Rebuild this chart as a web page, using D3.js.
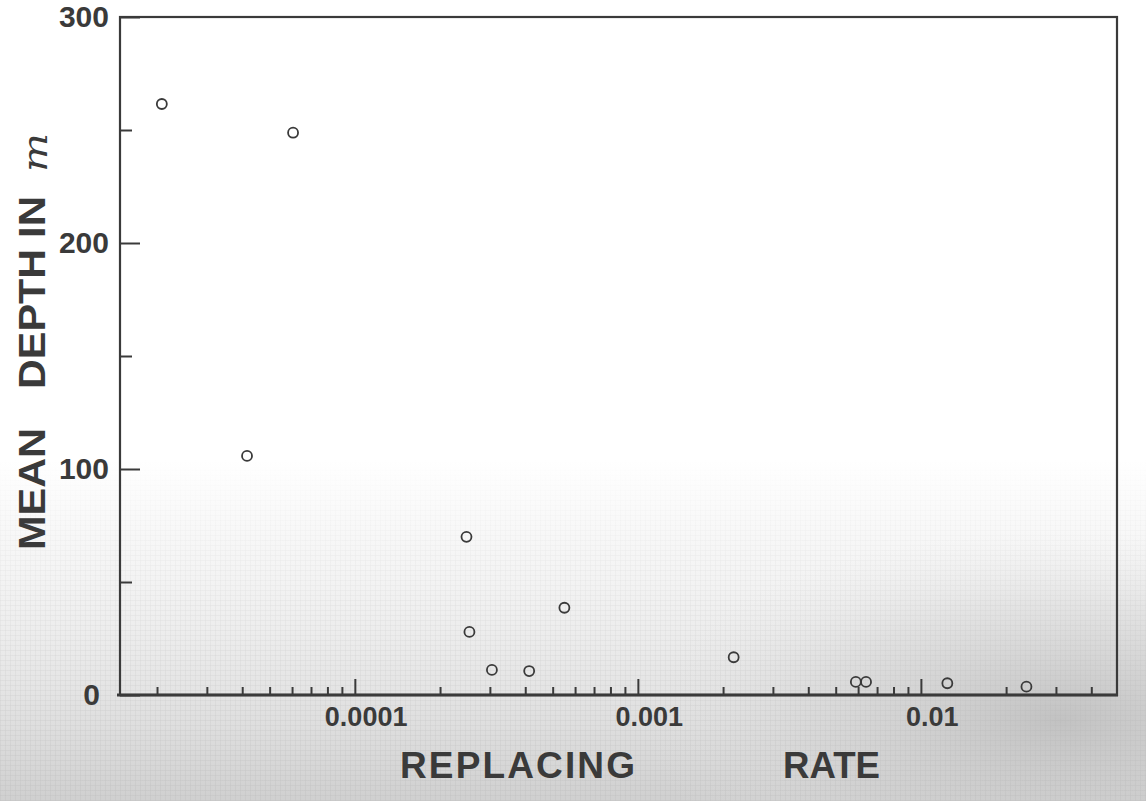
<!DOCTYPE html>
<html>
<head>
<meta charset="utf-8">
<script src="https://cdn.jsdelivr.net/npm/d3@7"></script>
<style>
  html, body { margin: 0; padding: 0; background: #fff; }
  svg { display: block; }
</style>
</head>
<body>
<script>
// ---- data ----
const replacingRate = [2.08e-5, 6.05e-5, 4.16e-5, 2.48e-4, 2.54e-4, 3.05e-4, 4.13e-4, 5.5e-4, 2.18e-3, 5.89e-3, 6.4e-3, 1.24e-2, 2.36e-2];
const meanDepth     = [261.5, 248.8, 105.8, 70.0, 27.9, 11.1, 10.6, 38.6, 16.7, 5.8, 5.8, 5.2, 3.7];
const xMajorTicks = [0.0001, 0.001, 0.01];
const xMajorLabels = ["0.0001", "0.001", "0.01"];
const xMinorTicks = [2e-5,3e-5,4e-5,5e-5,6e-5,7e-5,8e-5,9e-5,
                     2e-4,3e-4,4e-4,5e-4,6e-4,7e-4,8e-4,9e-4,
                     2e-3,3e-3,4e-3,5e-3,6e-3,7e-3,8e-3,9e-3,
                     2e-2,3e-2,4e-2];
const yMajorTicks = [0, 100, 200, 300];
const yMinorTicks = [50, 150, 250];
const xTitleWords = ["REPLACING", "RATE"];
const yTitleWords = ["MEAN", "DEPTH", "IN"];
const yUnit = "m";

(function () {
const W = 1146, H = 801;
const pL = 120, pR = 1117, pT = 17, pB = 695;
const ink = "#3a3a3a";
const font = "'Liberation Sans', Arial, sans-serif";

const svg = d3.select("body").append("svg").attr("width", W).attr("height", H);

// ---- paper background (scanned graph-paper look in lower part) ----
const defs = svg.append("defs");
const grad = defs.append("linearGradient").attr("id", "fade").attr("x1", 0).attr("y1", 0).attr("x2", 0).attr("y2", 1);
grad.append("stop").attr("offset", "0%").attr("stop-color", "#e0e0e0").attr("stop-opacity", 0);
grad.append("stop").attr("offset", "40%").attr("stop-color", "#e0e0e0").attr("stop-opacity", 0.45);
grad.append("stop").attr("offset", "100%").attr("stop-color", "#cdcdcd").attr("stop-opacity", 0.95);
const rad = defs.append("radialGradient").attr("id", "blotch")
  .attr("gradientUnits", "userSpaceOnUse").attr("cx", 1060).attr("cy", 720).attr("r", 420)
  .attr("gradientTransform", "translate(1060,720) scale(1,0.45) translate(-1060,-720)");
rad.append("stop").attr("offset", "0%").attr("stop-color", "#bdbdbd").attr("stop-opacity", 0.85);
rad.append("stop").attr("offset", "60%").attr("stop-color", "#cfcfcf").attr("stop-opacity", 0.4);
rad.append("stop").attr("offset", "100%").attr("stop-color", "#e5e5e5").attr("stop-opacity", 0);
const pat = defs.append("pattern").attr("id", "grid").attr("patternUnits", "userSpaceOnUse")
  .attr("width", 5).attr("height", 5);
pat.append("path").attr("d", "M5 0 L0 0 0 5").attr("fill", "none").attr("stroke", "#b0b0b0").attr("stroke-width", 0.6);
const mask = defs.append("mask").attr("id", "gridMask");
const mg = defs.append("linearGradient").attr("id", "maskGrad").attr("x1", 0).attr("y1", 0).attr("x2", 0).attr("y2", 1);
mg.append("stop").attr("offset", "0%").attr("stop-color", "#000");
mg.append("stop").attr("offset", "40%").attr("stop-color", "#555");
mg.append("stop").attr("offset", "100%").attr("stop-color", "#aaa");
mask.append("rect").attr("x", 0).attr("y", 460).attr("width", W).attr("height", H - 460).attr("fill", "url(#maskGrad)");

svg.append("rect").attr("width", W).attr("height", H).attr("fill", "#fff");
svg.append("rect").attr("x", 0).attr("y", 460).attr("width", W).attr("height", H - 460).attr("fill", "url(#fade)");
svg.append("rect").attr("x", 0).attr("y", 0).attr("width", W).attr("height", H).attr("fill", "url(#blotch)");
svg.append("rect").attr("x", 0).attr("y", 460).attr("width", W).attr("height", H - 460)
  .attr("fill", "url(#grid)").attr("mask", "url(#gridMask)");

// ---- scales ----
const x = d3.scaleLog().domain([1.48e-5, 0.0493]).range([pL, pR]);
const y = d3.scaleLinear().domain([0, 300]).range([pB, pT]);

// ---- x axis (ticks point inward) ----
const gxMinor = svg.append("g").attr("transform", `translate(0,${pB})`)
  .call(d3.axisBottom(x).tickValues(xMinorTicks).tickSize(-8).tickFormat(""));
const gxMajor = svg.append("g").attr("transform", `translate(0,${pB})`)
  .call(d3.axisBottom(x).tickValues(xMajorTicks).tickSize(-16).tickPadding(12)
    .tickFormat((d, i) => xMajorLabels[i]));
[gxMinor, gxMajor].forEach(g => {
  g.select(".domain").remove();
  g.selectAll(".tick line").attr("stroke", ink).attr("stroke-width", 2);
});
gxMajor.selectAll(".tick text")
  .attr("font-family", font).attr("font-size", 27).attr("font-weight", "bold")
  .attr("fill", ink).attr("dx", "0.4em");

// ---- y axis (ticks point inward) ----
const gyMinor = svg.append("g").attr("transform", `translate(${pL},0)`)
  .call(d3.axisLeft(y).tickValues(yMinorTicks).tickSize(-12).tickFormat(""));
const gyMajor = svg.append("g").attr("transform", `translate(${pL},0)`)
  .call(d3.axisLeft(y).tickValues(yMajorTicks).tickSize(-20).tickPadding(11).tickFormat(d3.format("d")));
[gyMinor, gyMajor].forEach(g => {
  g.select(".domain").remove();
  g.selectAll(".tick line").attr("stroke", ink).attr("stroke-width", 2);
});
gyMajor.selectAll(".tick text")
  .attr("font-family", font).attr("font-size", 30).attr("font-weight", "bold")
  .attr("fill", ink);
gyMajor.selectAll(".tick").filter(d => d === 0).select("text").attr("dx", "-0.3em");

// ---- frame ----
svg.append("rect").attr("x", pL).attr("y", pT)
  .attr("width", pR - pL).attr("height", pB - pT)
  .attr("fill", "none").attr("stroke", ink).attr("stroke-width", 2.2);
svg.append("line").attr("x1", pL - 3).attr("x2", pR + 1).attr("y1", pB).attr("y2", pB)
  .attr("stroke", ink).attr("stroke-width", 3);

// ---- points ----
const pts = replacingRate.map((r, i) => ({ r, d: meanDepth[i] }));
svg.append("g").selectAll("circle").data(pts).join("circle")
  .attr("cx", p => x(p.r)).attr("cy", p => y(p.d)).attr("r", 5)
  .attr("fill", "none").attr("stroke", ink).attr("stroke-width", 1.8);

// ---- axis titles ----
const titleStyle = s => s.attr("font-family", font).attr("font-size", 37).attr("font-weight", "bold")
  .attr("fill", ink).attr("lengthAdjust", "spacing");
svg.append("text").attr("x", 400).attr("y", 778).attr("textLength", 235)
  .call(titleStyle).text(xTitleWords[0]);
svg.append("text").attr("x", 783).attr("y", 778).attr("textLength", 97)
  .call(titleStyle).attr("lengthAdjust", "spacingAndGlyphs").text(xTitleWords[1]);

// vertical title: word start (bottom) positions and lengths along the rotated baseline
const yWordStart = [550, 389, 238];
const yWordLen = [122, 140, 42];
yTitleWords.forEach((w, i) => {
  svg.append("text").attr("transform", `translate(45,${yWordStart[i]}) rotate(-90)`)
    .attr("x", 0).attr("y", 0).attr("textLength", yWordLen[i])
    .call(titleStyle).attr("lengthAdjust", "spacingAndGlyphs").text(w);
});
svg.append("text").attr("transform", "translate(47,172) rotate(-90)")
  .attr("x", 0).attr("y", 0)
  .attr("textLength", 39).attr("lengthAdjust", "spacingAndGlyphs")
  .attr("font-family", "'DejaVu Serif', serif").attr("font-style", "italic").attr("font-size", 34)
  .attr("fill", ink).text(yUnit);
})();
</script>
</body>
</html>
